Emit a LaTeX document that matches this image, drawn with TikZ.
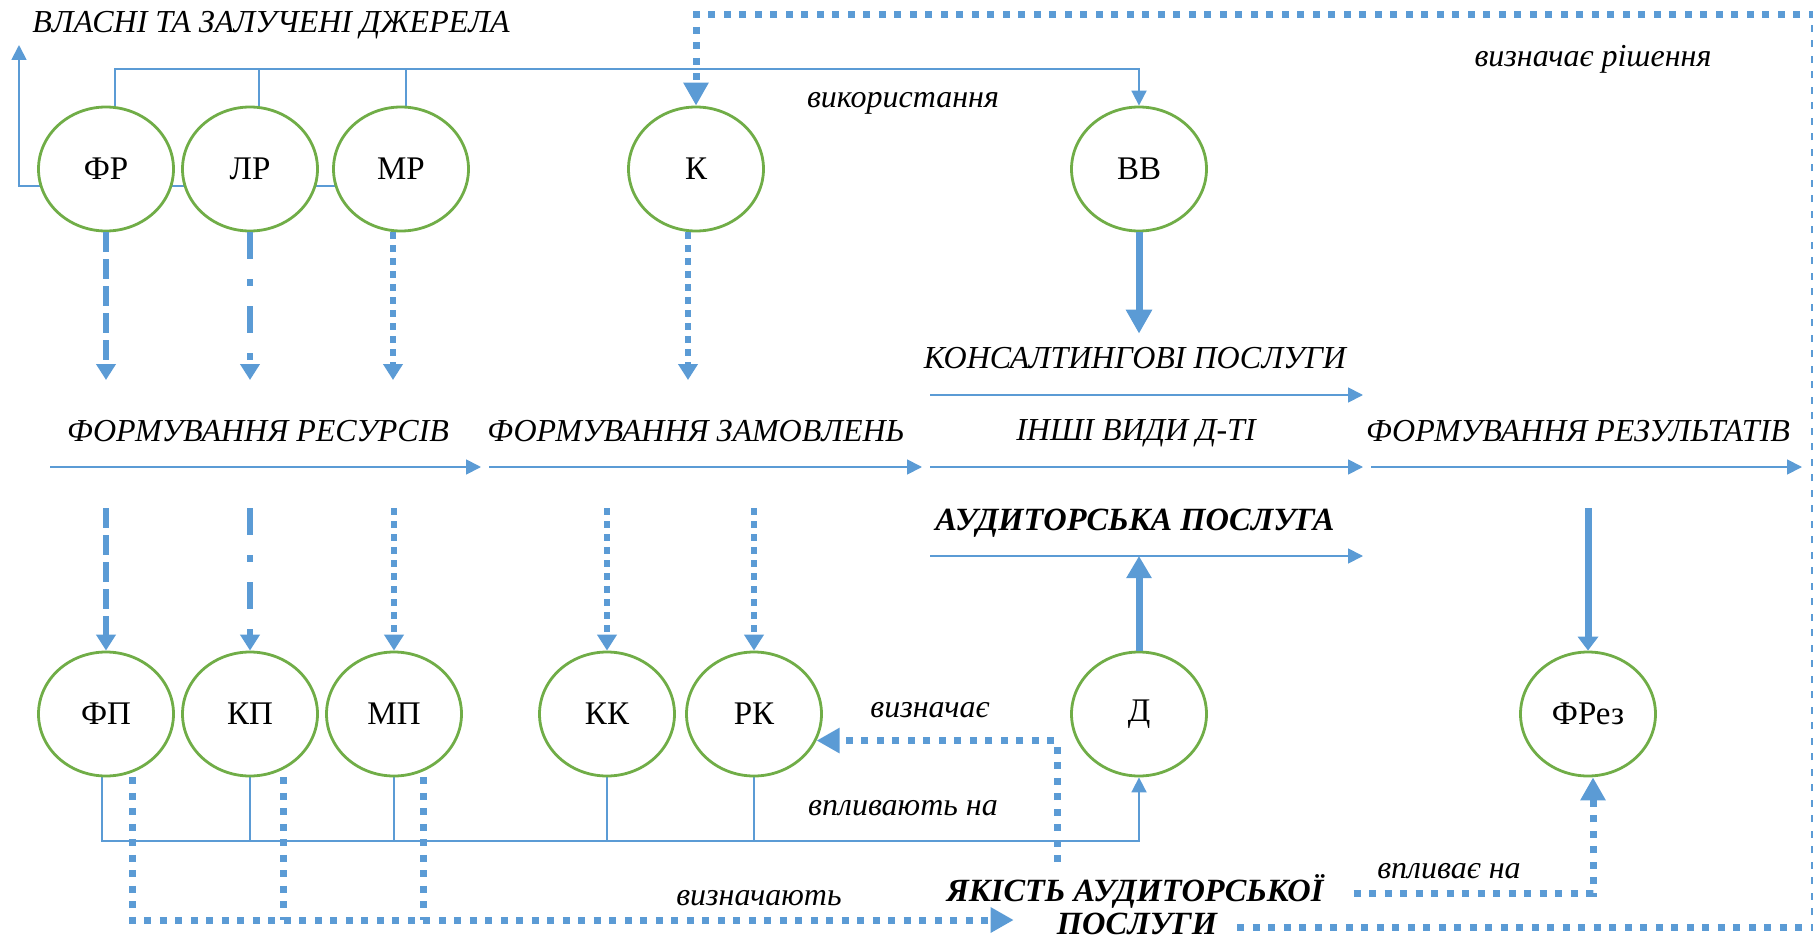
\documentclass[tikz,border=0pt]{standalone}
\usepackage{fontspec}
\setmainfont{Liberation Serif}
\usetikzlibrary{arrows.meta,shapes.geometric,backgrounds}
\definecolor{lineblue}{HTML}{5B9BD5}
\definecolor{ringgreen}{HTML}{70AD47}
\begin{document}
\begin{tikzpicture}[x=1pt,y=-1pt,
  krug/.style={ellipse,draw=ringgreen,line width=2.8pt,fill=white,minimum width=135pt,minimum height=124pt,inner sep=0pt,font=\fontsize{33}{36}\selectfont},
  lbl/.style={inner sep=0pt,anchor=base,font=\fontsize{32}{36}\selectfont\itshape},
  blbl/.style={inner sep=0pt,anchor=base,font=\fontsize{32.4}{36}\selectfont\bfseries\itshape},
  thinln/.style={draw=lineblue,line width=1.8pt},
  thinarr/.style={thinln,-{Triangle[length=15pt,width=15pt]}},
  downtip/.style={-{Triangle[length=16pt,width=19pt]}},
  dasha/.style={draw=lineblue,line width=6pt,dash pattern=on 20pt off 7pt,downtip},
  dashdota/.style={draw=lineblue,line width=6pt,dash pattern=on 27pt off 20pt on 7pt off 20pt,downtip},
  sqdot/.style={draw=lineblue,line width=6pt,dash pattern=on 6.5pt off 6.5pt,downtip},
  solida/.style={draw=lineblue,line width=7pt},
  dotln/.style={draw=lineblue,line width=7pt,dash pattern=on 7pt off 8.5pt},
  dotarr/.style={dotln,-{Triangle[length=23pt,width=24pt]}}]
\useasboundingbox (0,0) rectangle (1813,939);
\clip (0,0) rectangle (1813,939);

% circles
\node[krug] (fr) at (106,169) {ФР};
\node[krug] (lr) at (250,169) {ЛР};
\node[krug] (mr) at (401,169) {МР};
\node[krug] (k) at (696,169) {К};
\node[krug] (vv) at (1139,169) {ВВ};
\node[krug] (fp) at (106,714) {ФП};
\node[krug] (kp) at (250,714) {КП};
\node[krug] (mp) at (394,714) {МП};
\node[krug] (kk) at (607,714) {КК};
\node[krug] (rk) at (754,714) {РК};
\node[krug] (d) at (1139,714) {Д};
\node[krug] (frez) at (1588,714) {ФРез};

% texts
\node[lbl] (src) at (271,33) {ВЛАСНІ ТА ЗАЛУЧЕНІ ДЖЕРЕЛА};
\node[lbl] (use) at (903,108) {використання};
\node[lbl] (dec) at (1593,67) {визначає рішення};
\node[lbl] (tres) at (258,441) {ФОРМУВАННЯ РЕСУРСІВ};
\node[lbl] (tord) at (696,441) {ФОРМУВАННЯ ЗАМОВЛЕНЬ};
\node[lbl] (tcons) at (1135,368) {КОНСАЛТИНГОВІ ПОСЛУГИ};
\node[lbl] (toth) at (1136,440) {ІНШІ ВИДИ Д-ТІ};
\node[lbl] (tresl) at (1578,441) {ФОРМУВАННЯ РЕЗУЛЬТАТІВ};
\node[blbl] (taud) at (1135,530) {АУДИТОРСЬКА ПОСЛУГА};
\node[lbl] (tdet) at (930,717) {визначає};
\node[lbl] (tinfl) at (903,815) {впливають на};
\node[lbl] (tdets) at (759,905) {визначають};
\node[lbl] (tinf) at (1449,878) {впливає на};
\node[blbl] (qual) at (1135,901) {ЯКІСТЬ АУДИТОРСЬКОЇ};
\node[blbl] (qualb) at (1137,934) {ПОСЛУГИ};

\coordinate (srcb) at (19,186);
\coordinate (srcu) at (19,45);
\coordinate (topbus) at (0,69);
\coordinate (bus) at (0,841);
\coordinate (detbus) at (0,920);
\coordinate (rowa) at (0,380);
\coordinate (rowb) at (0,508);
\coordinate (audln) at (0,556);
\coordinate (rtop) at (1814.5,15);

% stage arrows
\foreach \xa/\xb/\yy in {50/481/467,489/922/467,930/1363/467,1371/1802/467,930/1363/395,930/1363/556}
  \draw[thinarr] (\xa,\yy) -- (\xb,\yy);

\begin{scope}[on background layer]
\draw[thinarr] (mr.center |- srcb) -- (srcb) -- (srcu);
\draw[thinarr] ([xshift=9pt]fr.north) |- (vv.north |- topbus) -- (vv.north);
\draw[thinln] ([xshift=9pt]lr.north) -- ([xshift=9pt]lr.north |- topbus);
\draw[thinln] ([xshift=5pt]mr.north) -- ([xshift=5pt]mr.north |- topbus);
\draw[thinarr] ([xshift=-4pt]fp.south) |- (d.south |- bus) -- (d.south);
\foreach \n in {kp,mp,kk,rk}
  \draw[thinln] (\n.south) -- (\n.south |- bus);
\end{scope}

% resources and orders
\draw[dasha] (fr.south) -- (fr.south |- rowa);
\draw[dashdota] (lr.south) -- (lr.south |- rowa);
\draw[sqdot] ([xshift=-8pt]mr.south) -- ([xshift=-8pt]mr.south |- rowa);
\draw[sqdot] ([xshift=-8pt]k.south) -- ([xshift=-8pt]k.south |- rowa);
\draw[solida,-{Triangle[length=24pt,width=25pt]}] (vv.south) -- ([yshift=13pt]vv.south |- tcons.north);
\draw[dasha] (fp.north |- rowb) -- (fp.north);
\draw[dashdota] (kp.north |- rowb) -- (kp.north);
\draw[sqdot] (mp.north |- rowb) -- (mp.north);
\draw[sqdot] (kk.north |- rowb) -- (kk.north);
\draw[sqdot] (rk.north |- rowb) -- (rk.north);
\draw[solida,-{Triangle[length=14pt,width=20pt]}] (frez.north |- rowb) -- (frez.north);
\draw[solida,-{Triangle[length=22pt,width=24pt]}] (d.north) -- (d.north |- audln);

% quality links
\draw[dotarr] ([xshift=26pt]fp.south) |- ([xshift=-43pt,yshift=14pt]qualb.base west);
\draw[dotln] ([xshift=33pt]kp.south) -- ([xshift=33pt]kp.south |- detbus);
\draw[dotln] ([xshift=29pt]mp.south) -- ([xshift=29pt]mp.south |- detbus);
\draw[dotarr] ([xshift=-78pt,yshift=39pt]qual.base) |- (rk.-23);
\draw[dotarr] ([xshift=30pt,yshift=8pt]qual.base east) -| ([xshift=5pt]frez.south);
\draw[dotarr] ([xshift=20pt,yshift=7pt]qualb.base east) -| (rtop) -| (k.north);
\end{tikzpicture}
\end{document}
